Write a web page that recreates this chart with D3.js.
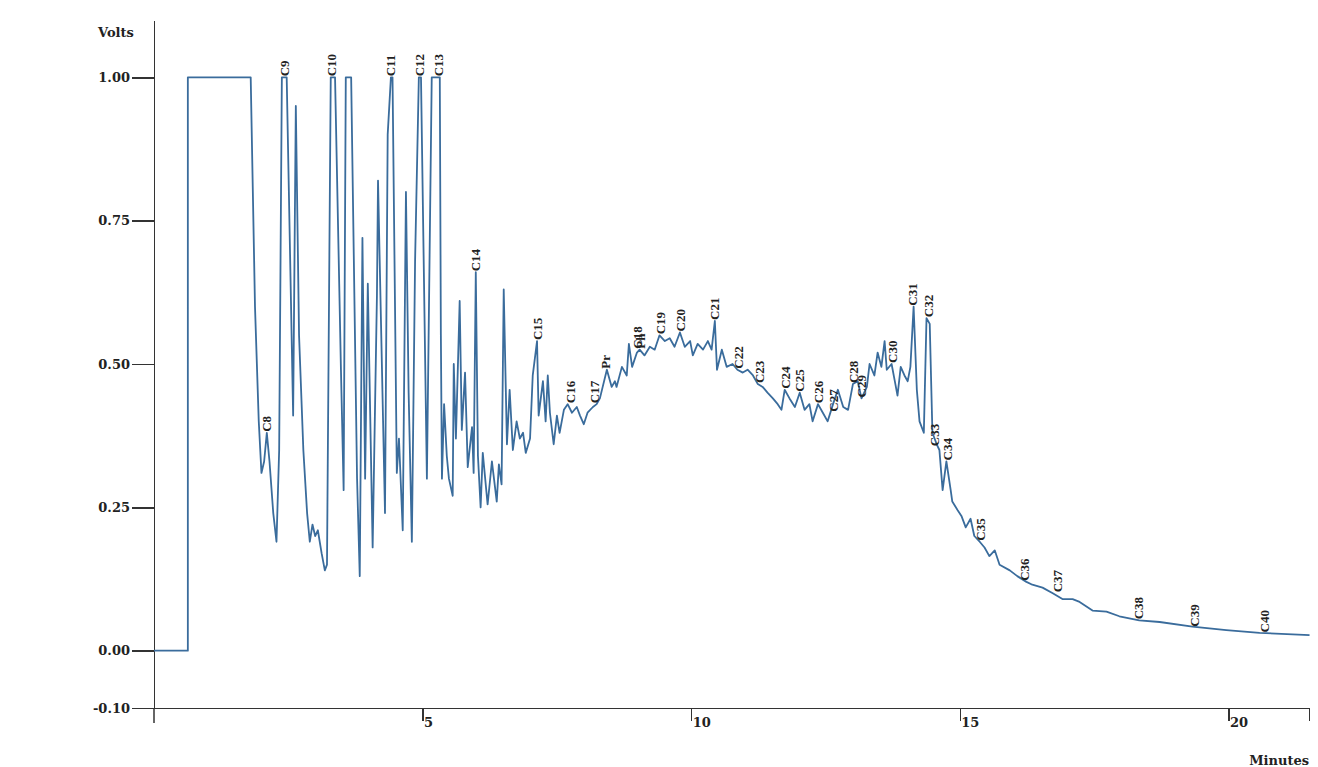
<!DOCTYPE html>
<meta charset="utf-8">
<style>
body { margin: 0; background: #fff; }
svg { display: block; }
.axis path, .axis line { stroke: #333; stroke-width: 1.5px; shape-rendering: crispEdges; }
.axis text { font-family: "DejaVu Serif", serif; font-weight: bold; font-size: 13px; fill: #222; }
.title { font-family: "DejaVu Serif", serif; font-weight: bold; font-size: 13px; fill: #222; }
.trace { fill: none; stroke: #3a6c9c; stroke-width: 1.8px; stroke-linejoin: round; }
.peak { font-family: "Liberation Serif", serif; font-weight: bold; font-size: 13px; fill: #222; }
</style>
<body>
<script src="https://d3js.org/d3.v7.min.js"></script>
<script>
// retention time (minutes) and detector signal (volts)
var times = [0, 0.63, 0.63, 1.80, 1.88, 1.95, 2.00, 2.05, 2.10, 2.15, 2.22, 2.28, 2.33, 2.38, 2.47,
  2.59, 2.64, 2.70, 2.78, 2.85, 2.90, 2.95, 3.00, 3.05, 3.12, 3.18, 3.22, 3.29, 3.37, 3.48, 3.53,
  3.57, 3.67, 3.78, 3.83, 3.88, 3.93, 3.98, 4.07, 4.15, 4.17, 4.30, 4.35, 4.41, 4.44, 4.52, 4.56,
  4.63, 4.69, 4.74, 4.80, 4.86, 4.93, 4.97, 5.08, 5.17, 5.32, 5.34, 5.36, 5.40, 5.45, 5.49, 5.56,
  5.58, 5.62, 5.69, 5.73, 5.79, 5.84, 5.92, 5.95, 5.99, 6.03, 6.08, 6.12, 6.21, 6.29, 6.38, 6.42,
  6.47, 6.51, 6.57, 6.62, 6.68, 6.75, 6.81, 6.87, 6.92, 7.00, 7.05, 7.13, 7.16, 7.24, 7.29, 7.33,
  7.37, 7.44, 7.50, 7.55, 7.63, 7.70, 7.78, 7.87, 7.93, 8.00, 8.07, 8.17, 8.24, 8.30, 8.43, 8.52,
  8.58, 8.61, 8.71, 8.80, 8.84, 8.90, 8.99, 9.04, 9.13, 9.23, 9.32, 9.41, 9.51, 9.60, 9.69, 9.79,
  9.88, 9.98, 10.03, 10.12, 10.22, 10.31, 10.38, 10.44, 10.48, 10.57, 10.66, 10.77, 10.86, 10.96,
  11.05, 11.15, 11.24, 11.33, 11.42, 11.52, 11.61, 11.68, 11.74, 11.83, 11.93, 12.02, 12.11, 12.20,
  12.26, 12.36, 12.45, 12.54, 12.64, 12.73, 12.83, 12.92, 13.01, 13.10, 13.17, 13.27, 13.32, 13.41,
  13.47, 13.54, 13.60, 13.64, 13.73, 13.79, 13.84, 13.90, 13.97, 14.03, 14.08, 14.14, 14.20, 14.25,
  14.33, 14.38, 14.44, 14.49, 14.57, 14.62, 14.68, 14.75, 14.83, 14.86, 14.96, 15.03, 15.11, 15.20,
  15.27, 15.37, 15.46, 15.55, 15.65, 15.74, 15.93, 16.07, 16.24, 16.35, 16.54, 16.73, 16.91, 17.10,
  17.23, 17.47, 17.73, 17.97, 18.34, 18.72, 19.33, 19.96, 20.58, 21.51];
var volts = [0, 0, 1.00, 1.00, 0.60, 0.40, 0.31, 0.33, 0.38, 0.33, 0.24, 0.19, 0.35, 1.00, 1.00,
  0.41, 0.95, 0.55, 0.35, 0.24, 0.19, 0.22, 0.20, 0.21, 0.17, 0.14, 0.15, 1.00, 1.00, 0.49, 0.28,
  1.00, 1.00, 0.30, 0.13, 0.72, 0.30, 0.64, 0.18, 0.62, 0.82, 0.24, 0.90, 1.00, 1.00, 0.31, 0.37,
  0.21, 0.80, 0.45, 0.19, 0.68, 1.00, 1.00, 0.30, 1.00, 1.00, 0.55, 0.30, 0.43, 0.34, 0.30, 0.27,
  0.50, 0.37, 0.61, 0.385, 0.485, 0.32, 0.39, 0.31, 0.66, 0.34, 0.25, 0.345, 0.255, 0.33, 0.26, 0.325,
  0.29, 0.63, 0.36, 0.455, 0.35, 0.40, 0.37, 0.38, 0.345, 0.37, 0.48, 0.54, 0.41, 0.47, 0.40, 0.48,
  0.415, 0.36, 0.41, 0.38, 0.42, 0.43, 0.415, 0.425, 0.41, 0.395, 0.415, 0.425, 0.43, 0.44, 0.49, 0.46,
  0.47, 0.46, 0.495, 0.48, 0.535, 0.495, 0.52, 0.525, 0.515, 0.53, 0.525, 0.55, 0.54, 0.545, 0.53, 0.555,
  0.53, 0.54, 0.515, 0.535, 0.525, 0.54, 0.525, 0.575, 0.49, 0.525, 0.495, 0.50, 0.49, 0.485,
  0.49, 0.48, 0.465, 0.46, 0.45, 0.44, 0.43, 0.42, 0.455, 0.44, 0.425, 0.45, 0.42, 0.43,
  0.40, 0.43, 0.415, 0.40, 0.43, 0.455, 0.425, 0.42, 0.465, 0.47, 0.44, 0.46, 0.50, 0.48,
  0.52, 0.495, 0.54, 0.49, 0.50, 0.47, 0.445, 0.495, 0.48, 0.47, 0.495, 0.60, 0.455, 0.40,
  0.38, 0.58, 0.57, 0.38, 0.36, 0.35, 0.28, 0.33, 0.28, 0.26, 0.245, 0.235, 0.215, 0.23,
  0.20, 0.19, 0.18, 0.165, 0.175, 0.15, 0.14, 0.13, 0.12, 0.115, 0.11, 0.10, 0.09, 0.09,
  0.085, 0.07, 0.068, 0.06, 0.053, 0.05, 0.042, 0.036, 0.031, 0.027];

// peak labels
var peakNames = ["C8", "C9", "C10", "C11", "C12", "C13", "C14", "C15", "C16", "C17", "Pr", "C18", "Ph",
  "C19", "C20", "C21", "C22", "C23", "C24", "C25", "C26", "C27", "C28", "C29", "C30", "C31", "C32",
  "C33", "C34", "C35", "C36", "C37", "C38", "C39", "C40"];
var peakTimes = [2.10, 2.42, 3.31, 4.41, 4.95, 5.30, 5.99, 7.13, 7.76, 8.19, 8.41, 8.99, 9.06,
  9.43, 9.80, 10.44, 10.88, 11.27, 11.76, 12.02, 12.37, 12.65, 13.02, 13.17, 13.75, 14.12, 14.42,
  14.53, 14.77, 15.39, 16.20, 16.82, 18.33, 19.37, 20.67];
var peakVolts = [0.38, 1.00, 1.00, 1.00, 1.00, 1.00, 0.66, 0.54, 0.43, 0.43, 0.49, 0.525, 0.525,
  0.55, 0.555, 0.575, 0.49, 0.465, 0.455, 0.45, 0.43, 0.415, 0.465, 0.44, 0.50, 0.60, 0.58,
  0.355, 0.33, 0.19, 0.12, 0.10, 0.053, 0.04, 0.03];

var yTicks = [-0.10, 0.00, 0.25, 0.50, 0.75, 1.00];
var xTicks = [5, 10, 15, 20, 21.5];

var width = 1318, height = 767;

var svg = d3.select("body").append("svg")
  .attr("width", width)
  .attr("height", height);

var x = d3.scaleLinear().domain([0, 21.5]).range([154, 1309]);
var y = d3.scaleLinear().domain([-0.10, 1.10]).range([708, 20]);

// y axis (plain hyphen for the negative label)
var yAxis = d3.axisLeft(y)
  .tickValues(yTicks)
  .tickSize(22)
  .tickSizeOuter(0)
  .tickFormat(function(d) { return d.toFixed(2); });
svg.append("g")
  .attr("class", "axis")
  .attr("transform", "translate(154,0)")
  .call(yAxis)
  .selectAll("text").attr("x", -24);

// y axis runs a bit below the x axis
svg.append("line")
  .attr("x1", 154).attr("x2", 154)
  .attr("y1", y(-0.10)).attr("y2", 723)
  .attr("stroke", "#333").attr("stroke-width", 1.5);

// x axis
var xAxis = d3.axisBottom(x)
  .tickValues(xTicks)
  .tickSize(13)
  .tickSizeOuter(0)
  .tickFormat(function(d) { return d === 21.5 ? "" : d; });
var gx = svg.append("g")
  .attr("class", "axis")
  .attr("transform", "translate(0," + y(-0.10) + ")")
  .call(xAxis);
gx.selectAll("text")
  .attr("text-anchor", "start")
  .attr("x", 1)
  .attr("y", 10)
  .attr("dy", "0.71em");

svg.append("text").attr("class", "title")
  .attr("x", 98).attr("y", 37)
  .text("Volts");
svg.append("text").attr("class", "title")
  .attr("x", 1309).attr("y", 765)
  .attr("text-anchor", "end")
  .text("Minutes");

// chromatogram trace
var line = d3.line()
  .x(function(d) { return x(d[0]); })
  .y(function(d) { return y(d[1]); });

svg.append("path")
  .datum(d3.zip(times, volts))
  .attr("class", "trace")
  .attr("d", line);

// rotated peak names above each apex
svg.selectAll(".peak")
  .data(d3.zip(peakNames, peakTimes, peakVolts))
  .enter().append("text")
  .attr("class", "peak")
  .attr("transform", function(d) {
    return "translate(" + x(d[1]) + "," + (y(d[2]) - 1) + ") rotate(-90)";
  })
  .attr("dy", "0.35em")
  .text(function(d) { return d[0]; });
</script>
</body>
